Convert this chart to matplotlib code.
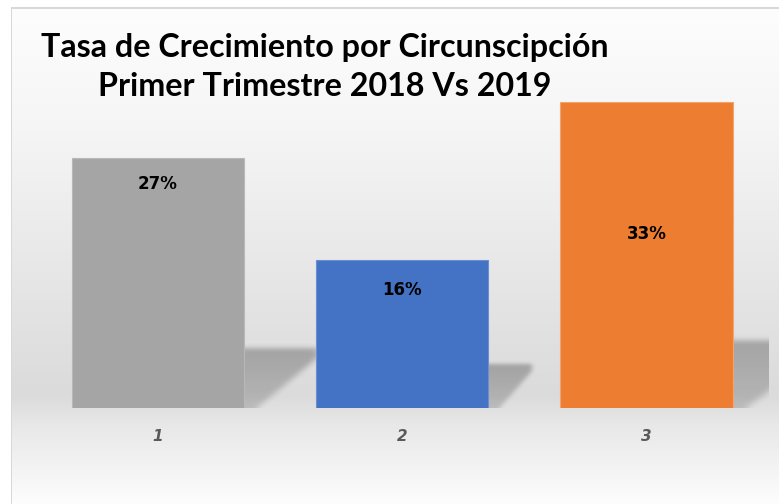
import numpy as np
import matplotlib
matplotlib.use("Agg")
import matplotlib.pyplot as plt
from matplotlib.path import Path

# data
categories = ["1", "2", "3"]
values = [27, 16, 33]
labels = ["27%", "16%", "33%"]
label_pos = [24.2, 12.7, 18.8]   # where the value labels sit inside the bars
bar_colors = ["#A5A5A5", "#4472C4", "#ED7D31"]
edge_colors = ["#B8B8B8", "#6A8FD3", "#F4A46E"]
title_lines = ["Tasa de Crecimiento por Circunscipción",
               "Primer Trimestre 2018 Vs 2019"]

W, H = 779, 504
fig = plt.figure(figsize=(W / 100, H / 100), dpi=100)
fig.patch.set_facecolor("white")

# background: frame line + vertical gray gradient
bg = np.ones((H, W, 3))
rows = np.arange(H)
shade = np.interp(rows, [8, 120, 300, 395, 425, 503],
                  [253, 246, 228, 219, 232, 253]) / 255.0
bg[8:, 12:, :] = shade[8:, None, None]
bg[7:9, 11:, :] = 0.85
bg[7:, 11:12, :] = 0.85
bax = fig.add_axes([0, 0, 1, 1], zorder=-1)
bax.imshow(bg, aspect="auto", interpolation="nearest")
bax.axis("off")

ax = fig.add_axes([0.0461, 0.1905, 0.9406, 0.643])
ax.patch.set_visible(False)
x = np.arange(len(values))
width = 0.705


def blur(a, sigma):
    k = np.arange(-3 * sigma, 3 * sigma + 1)
    k = np.exp(-0.5 * (k / sigma) ** 2)
    k /= k.sum()
    n = len(k) // 2
    a = np.pad(a, ((n, n), (0, 0)), mode="edge")
    a = np.apply_along_axis(lambda c: np.convolve(c, k, mode="valid"), 0, a)
    a = np.pad(a, ((0, 0), (n, n)), mode="edge")
    a = np.apply_along_axis(lambda c: np.convolve(c, k, mode="valid"), 1, a)
    return a


# soft shadows cast to the right of every bar
for xi, h in zip(x, values):
    r = xi + width / 2
    sh = 2.2 + 0.155 * h
    sw = 0.0112 * h
    pad_x, pad_y = 0.08, 1.5
    x0, x1 = r - 0.02, r + sw + pad_x
    y0, y1 = 0, sh + pad_y
    nx, ny = 120, 120
    gx, gy = np.meshgrid(np.linspace(x0, x1, nx), np.linspace(y0, y1, ny))
    poly = Path([(r - 0.05, -1), (r - 0.05, sh), (r + sw, sh),
                 (r + sw, sh * 0.85), (r + 0.03, -0.5), (r - 0.05, -1)])
    inside = poly.contains_points(np.c_[gx.ravel(), gy.ravel()])
    mask = inside.reshape(ny, nx).astype(float)
    v = np.clip(gy / sh, 0, 1)
    mask *= 0.6 + 0.4 * v
    alpha = 0.27 * blur(mask, 4)
    img = np.zeros((ny, nx, 4))
    img[..., 3] = alpha
    ax.imshow(img, extent=(x0, x1, y0, y1), origin="lower",
              aspect="auto", interpolation="bilinear", zorder=1)

bars = ax.bar(x, values, width=width, color=bar_colors,
              edgecolor=edge_colors, linewidth=0.8, zorder=2)

for xi, lab, yp in zip(x, labels, label_pos):
    ax.text(xi, yp, lab, ha="center", va="center", fontsize=12,
            fontweight="bold", color="black", zorder=3)

ax.set_xlim(-0.5, 2.5)
ax.set_ylim(0, 35)
ax.set_xticks(x)
ax.set_xticklabels(categories, fontsize=11, fontstyle="italic",
                   fontweight="bold", color="#595959")
ax.tick_params(axis="x", length=0, pad=15)
ax.set_yticks([])
for s in ax.spines.values():
    s.set_visible(False)

# title, two centered lines
fam = ["Lato", "DejaVu Sans"]
t1 = fig.text(325 / W, 1 - 57 / H, title_lines[0], ha="center",
              va="baseline", fontsize=24, fontweight="bold", family=fam)
t2 = fig.text(325 / W, 1 - 96 / H, title_lines[1], ha="center",
              va="baseline", fontsize=24, fontweight="bold", family=fam)
fig.canvas.draw()
w1 = t1.get_window_extent().width
fs = 24 * 568 / w1
t1.set_fontsize(fs)
t2.set_fontsize(fs)

fig.savefig("out.png", dpi=100)
